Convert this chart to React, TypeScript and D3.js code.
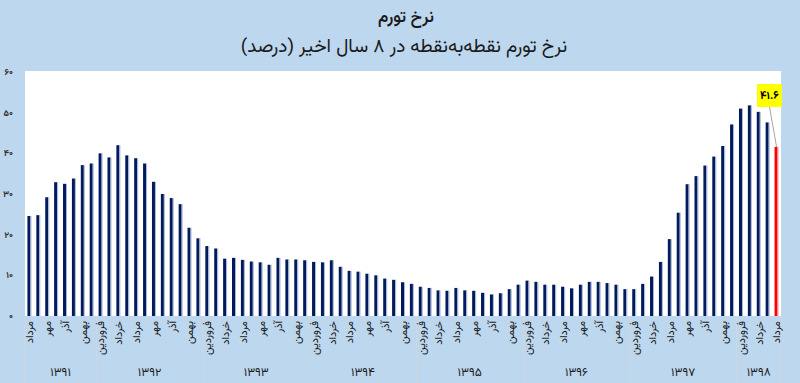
import React from "react";
import * as d3 from "d3";

const monthNames = ["فروردین","اردیبهشت","خرداد","تیر","مرداد","شهریور","مهر","آبان","آذر","دی","بهمن","اسفند"];
const years = ["۱۳۹۱","۱۳۹۲","۱۳۹۳","۱۳۹۴","۱۳۹۵","۱۳۹۶","۱۳۹۷","۱۳۹۸"];
const firstMonthIndex = 4; // مرداد ۱۳۹۱
const values1391 = [24.6, 24.8, 29.2, 32.9, 32.5, 33.8, 37.1, 37.5];
const values1392 = [40.0, 39.0, 42.0, 39.5, 38.8, 37.5, 33.0, 30.0, 29.0, 27.5, 21.7, 19.1];
const values1393 = [17.2, 16.6, 14.1, 14.3, 13.8, 13.4, 13.2, 12.6, 14.3, 13.9, 13.9, 13.7];
const values1394 = [13.3, 13.2, 13.7, 12.1, 11.1, 10.9, 10.4, 10.0, 9.2, 8.9, 8.3, 7.9];
const values1395 = [7.2, 6.9, 6.3, 6.2, 6.9, 6.3, 6.2, 5.7, 5.3, 5.6, 6.6, 7.7];
const values1396 = [8.7, 8.4, 7.7, 7.7, 7.2, 6.8, 7.7, 8.4, 8.4, 8.1, 7.7, 6.6];
const values1397 = [6.6, 7.9, 9.7, 13.3, 18.9, 25.4, 32.4, 34.4, 37.0, 39.2, 41.8, 47.1];
const values1398 = [51.0, 51.8, 50.2, 47.6, 41.6];
const yearValues = [values1391, values1392, values1393, values1394, values1395, values1396, values1397, values1398];
const yTicks = [0, 10, 20, 30, 40, 50, 60];
const title = "نرخ تورم";
const subtitle = "نرخ تورم نقطه‌به‌نقطه در ۸ سال اخیر (درصد)";
const lastLabel = "۴۱.۶";

const toFa = (s: string) => s.replace(/\d/g, (d) => "۰۱۲۳۴۵۶۷۸۹"[+d]);

type Row = { i: number; year: number; month: number; value: number };
const rows: Row[] = [];
yearValues.forEach((arr, yi) => {
  arr.forEach((v, k) => {
    const month = yi === 0 ? firstMonthIndex + k : k;
    rows.push({ i: rows.length, year: yi, month, value: v });
  });
});

const W = 800, H = 383;
const plotL = 25, plotR = 781, plotT = 71, plotB = 316;
const FONT = "'Vazirmatn','Noto Sans Arabic','DejaVu Sans',sans-serif";

export default function App() {
  const x = d3.scaleBand<number>().domain(rows.map((r) => r.i)).range([plotL, plotR]).paddingInner(0.55).paddingOuter(0.275);
  const y = d3.scaleLinear().domain([0, 60]).range([plotB, plotT + 1]);
  const step = x.step();
  const bw = x.bandwidth();
  const last = rows[rows.length - 1];

  const groups = years.map((yr, yi) => {
    const rs = rows.filter((r) => r.year === yi);
    const x0 = x(rs[0].i)! - (step - bw) / 2;
    const x1 = x(rs[rs.length - 1].i)! + bw + (step - bw) / 2;
    return { yr, x0, x1 };
  });

  const lx = x(last.i)! + bw / 2;
  const ly = y(last.value);
  const boxX = 757, boxY = 84, boxW = 25, boxH = 23;

  return (
    <svg width={W} height={H} style={{ position: "absolute", left: 0, top: 0 }} fontFamily={FONT}>
      <rect x={0} y={0} width={W} height={H} fill="#BDD7EE" />
      <rect x={plotL} y={plotT} width={plotR - plotL} height={plotB - plotT} fill="#FFFFFF" />
      <text x={406} y={22} textAnchor="middle" fontSize={17} fontWeight={600} fill="#1a1a1a">{title}</text>
      <text x={404} y={52} textAnchor="middle" fontSize={19} fill="#1a1a1a">{subtitle}</text>

      {yTicks.map((t) => (
        <text key={t} x={13} y={y(t)} dy="0.35em" textAnchor="end" fontSize={9} fontWeight="bold" fill="#333">{toFa(String(t))}</text>
      ))}

      {rows.map((r) => {
        const isLast = r.i === last.i;
        const bx = x(r.i)!;
        const by = y(r.value);
        return (
          <g key={r.i}>
            <rect x={bx} y={by} width={bw - 1} height={plotB - by} fill={isLast ? "#FF0000" : "#001A5E"} />
            <rect x={bx + bw - 1} y={by} width={1} height={plotB - by} fill={isLast ? "#F4A0A0" : "#A9B6D2"} />
          </g>
        );
      })}

      {groups.map((g, gi) => (
        <g key={gi}>
          <line x1={g.x0} x2={g.x0} y1={plotB} y2={H} stroke="#D0D6DE" strokeWidth={1} />
          {gi === groups.length - 1 && <line x1={g.x1} x2={g.x1} y1={plotB} y2={H} stroke="#D0D6DE" strokeWidth={1} />}
          <text x={(g.x0 + g.x1) / 2} y={372} dy="0.35em" textAnchor="middle" fontSize={12} fill="#1a1a1a">{g.yr}</text>
        </g>
      ))}

      {rows.filter((r) => r.i % 2 === 0).map((r) => {
        const cx = x(r.i)! + bw / 2;
        return (
          <text key={r.i} transform={`translate(${cx},${plotB + 5}) rotate(-90)`} textAnchor="end" dy="0.35em" fontSize={11} fill="#1a1a1a">
            {monthNames[r.month]}
          </text>
        );
      })}

      <line x1={boxX + boxW / 2} y1={boxY + boxH} x2={lx} y2={ly} stroke="#A6A6A6" strokeWidth={1} />
      <rect x={boxX} y={boxY} width={boxW} height={boxH} fill="#FFFF00" />
      <text x={boxX + boxW / 2} y={boxY + boxH / 2} dy="0.35em" textAnchor="middle" fontSize={11} fontWeight="bold" fill="#000">{lastLabel}</text>
    </svg>
  );
}
